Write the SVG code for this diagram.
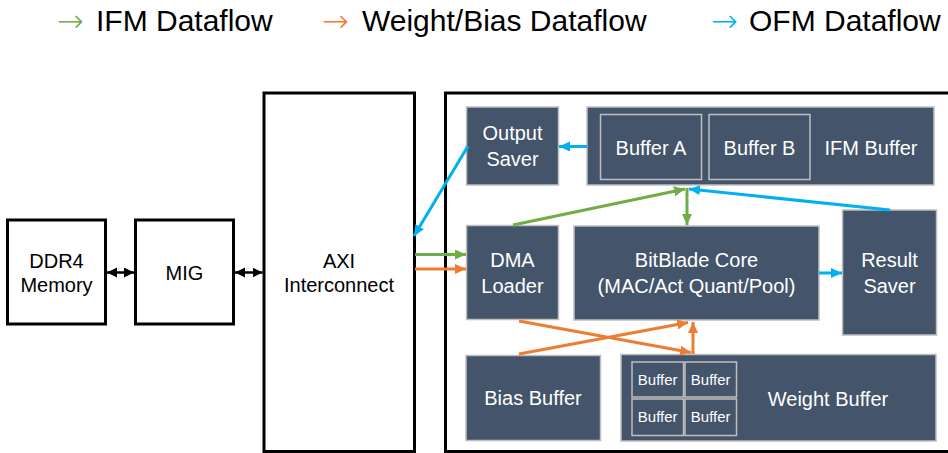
<svg xmlns="http://www.w3.org/2000/svg" width="948" height="453" viewBox="0 0 948 453">
<style>
.blk{fill:#fff;stroke:#000;stroke-width:3}
.dk{fill:#44546A;stroke:#BFBFBF;stroke-width:1.5}
.in{fill:none;stroke:#BFBFBF;stroke-width:1.5}
.tb{font-family:"Liberation Sans",Arial,sans-serif;font-size:20px;fill:#000;text-anchor:middle}
.tw{font-family:"Liberation Sans",Arial,sans-serif;font-size:20px;fill:#fff;text-anchor:middle}
.ts{font-family:"Liberation Sans",Arial,sans-serif;font-size:15px;fill:#fff;text-anchor:middle}
.lg{font-family:"Liberation Sans",Arial,sans-serif;font-size:30px;fill:#000}
.la{font-family:"DejaVu Sans",sans-serif;font-size:32px;font-weight:200}
.g{stroke:#70AD47;stroke-width:3;fill:none}
.o{stroke:#ED7D31;stroke-width:3;fill:none}
.b{stroke:#00B0F0;stroke-width:3;fill:none}
.k{stroke:#000;stroke-width:2.5;fill:none}
</style>
<defs>
<marker id="ag" markerUnits="userSpaceOnUse" markerWidth="12" markerHeight="12" refX="11" refY="5" orient="auto"><path d="M0,0 L11,5 L0,10 Z" fill="#70AD47"/></marker>
<marker id="ao" markerUnits="userSpaceOnUse" markerWidth="12" markerHeight="12" refX="11" refY="5" orient="auto"><path d="M0,0 L11,5 L0,10 Z" fill="#ED7D31"/></marker>
<marker id="ab" markerUnits="userSpaceOnUse" markerWidth="12" markerHeight="12" refX="11" refY="5" orient="auto"><path d="M0,0 L11,5 L0,10 Z" fill="#00B0F0"/></marker>
<marker id="ak" markerUnits="userSpaceOnUse" markerWidth="12" markerHeight="12" refX="10" refY="5" orient="auto-start-reverse"><path d="M0,0 L10,5 L0,10 Z" fill="#000"/></marker>
</defs>

<g id="legend">
<text class="la" x="57" y="32" fill="#70AD47">→</text><text class="lg" x="96" y="31">IFM Dataflow</text>
<text class="la" x="322" y="32" fill="#ED7D31">→</text><text class="lg" x="362" y="31">Weight/Bias Dataflow</text>
<text class="la" x="711" y="32" fill="#00B0F0">→</text><text class="lg" x="749" y="31">OFM Dataflow</text>
</g>

<g id="ddr4"><rect class="blk" x="7.5" y="220" width="98" height="104"/><text class="tb" x="56.5" y="267.5">DDR4</text><text class="tb" x="56.5" y="292">Memory</text></g>
<g id="mig"><rect class="blk" x="135.5" y="220" width="98" height="104"/><text class="tb" x="184.5" y="279.5">MIG</text></g>
<g id="axi"><rect class="blk" x="264" y="93" width="150.5" height="358.5"/><text class="tb" x="339" y="267.5">AXI</text><text class="tb" x="339" y="292">Interconnect</text></g>
<g id="accel"><rect class="blk" x="445.5" y="93" width="510" height="358.5"/></g>

<g id="output-saver"><rect class="dk" x="466.5" y="107" width="92" height="78"/><text class="tw" x="512.5" y="140">Output</text><text class="tw" x="512.5" y="166">Saver</text></g>
<g id="ifm-buffer"><rect class="dk" x="587" y="107" width="347" height="78"/>
<rect class="in" x="600.5" y="114.5" width="101" height="65"/><text class="tw" x="651" y="154.5">Buffer A</text>
<rect class="in" x="709" y="114.5" width="101" height="65"/><text class="tw" x="759.5" y="154.5">Buffer B</text>
<text class="tw" x="871" y="154.5">IFM Buffer</text></g>
<g id="dma-loader"><rect class="dk" x="466.5" y="225.5" width="92" height="94"/><text class="tw" x="512.5" y="267">DMA</text><text class="tw" x="512.5" y="292.5">Loader</text></g>
<g id="bitblade-core"><rect class="dk" x="574" y="226" width="245" height="94"/><text class="tw" x="696.5" y="267">BitBlade Core</text><text class="tw" x="696.5" y="292.5">(MAC/Act Quant/Pool)</text></g>
<g id="result-saver"><rect class="dk" x="842.5" y="210" width="94" height="125"/><text class="tw" x="889.5" y="267">Result</text><text class="tw" x="889.5" y="292.5">Saver</text></g>
<g id="bias-buffer"><rect class="dk" x="466" y="355.5" width="134.5" height="85"/><text class="tw" x="533" y="405">Bias Buffer</text></g>
<g id="weight-buffer"><rect class="dk" x="621" y="354.5" width="315" height="86.5"/>
<rect class="in" x="632" y="362" width="51.5" height="35"/><text class="ts" x="657.7" y="385">Buffer</text>
<rect class="in" x="685" y="362" width="51.5" height="35"/><text class="ts" x="710.7" y="385">Buffer</text>
<rect class="in" x="632" y="399" width="51.5" height="36.5"/><text class="ts" x="657.7" y="422">Buffer</text>
<rect class="in" x="685" y="399" width="51.5" height="36.5"/><text class="ts" x="710.7" y="422">Buffer</text>
<text class="tw" x="828" y="405.5">Weight Buffer</text></g>

<g id="connectors">
<line class="k" x1="107" y1="272.5" x2="134" y2="272.5" marker-start="url(#ak)" marker-end="url(#ak)"/>
<line class="k" x1="235" y1="272.5" x2="262.5" y2="272.5" marker-start="url(#ak)" marker-end="url(#ak)"/>
<line class="b" x1="587" y1="146.5" x2="559" y2="146.5" marker-end="url(#ab)"/>
<line class="b" x1="468" y1="146" x2="414" y2="236" marker-end="url(#ab)"/>
<line class="g" x1="415" y1="254.5" x2="466" y2="254.5" marker-end="url(#ag)"/>
<line class="o" x1="415" y1="269" x2="466" y2="269" marker-end="url(#ao)"/>
<line class="g" x1="513" y1="225" x2="685" y2="189" marker-end="url(#ag)"/>
<line class="g" x1="687" y1="188" x2="687" y2="225" marker-end="url(#ag)"/>
<line class="b" x1="890" y1="210" x2="689" y2="189" marker-end="url(#ab)"/>
<line class="b" x1="819" y1="273" x2="842" y2="273" marker-end="url(#ab)"/>
<line class="o" x1="519" y1="321" x2="691" y2="352.5" marker-end="url(#ao)"/>
<line class="o" x1="519" y1="354" x2="688" y2="322.5" marker-end="url(#ao)"/>
<line class="o" x1="693" y1="354" x2="693" y2="322" marker-end="url(#ao)"/>
</g>
</svg>
